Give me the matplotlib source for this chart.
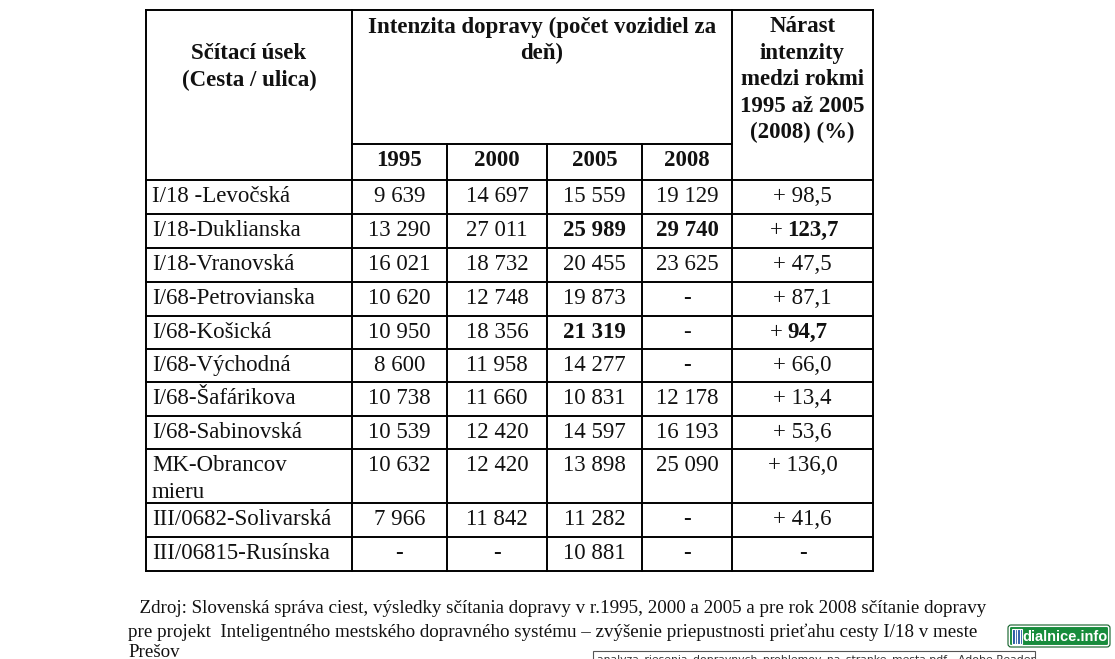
import matplotlib
matplotlib.use("Agg")
import matplotlib.pyplot as plt
from matplotlib.patches import Rectangle, FancyBboxPatch

# údaje z tabuľky
useky = ["I/18 -Levočská", "I/18-Duklianska", "I/18-Vranovská", "I/68-Petrovianska",
         "I/68-Košická", "I/68-Východná", "I/68-Šafárikova", "I/68-Sabinovská",
         "MK-Obrancov\nmieru", "III/0682-Solivarská", "III/06815-Rusínska"]
roky = ["1995", "2000", "2005", "2008"]
v1995 = ["9 639", "13 290", "16 021", "10 620", "10 950", "8 600", "10 738", "10 539", "10 632", "7 966", "-"]
v2000 = ["14 697", "27 011", "18 732", "12 748", "18 356", "11 958", "11 660", "12 420", "12 420", "11 842", "-"]
v2005 = ["15 559", "25 989", "20 455", "19 873", "21 319", "14 277", "10 831", "14 597", "13 898", "11 282", "10 881"]
v2008 = ["19 129", "29 740", "23 625", "-", "-", "-", "12 178", "16 193", "25 090", "-", "-"]
narast = ["+ 98,5", "+ 123,7", "+ 47,5", "+ 87,1", "+ 94,7", "+ 66,0", "+ 13,4", "+ 53,6", "+ 136,0", "+ 41,6", "-"]
tucne = [(1, 2), (1, 3), (1, 4), (4, 2), (4, 4)]

zdroj = ["  Zdroj: Slovenská správa ciest, výsledky sčítania dopravy v r.1995, 2000 a 2005 a pre rok 2008 sčítanie dopravy",
         "pre projekt  Inteligentného mestského dopravného systému – zvýšenie priepustnosti prieťahu cesty I/18 v meste",
         "Prešov"]

# rozmery tabuľky v pixeloch
stlpce = [146, 352, 447, 547, 642, 732, 873]
vysky = [34, 34, 34, 34, 33, 33, 34, 33, 54, 34, 34]
hore, pod_hlavickou, riadky_od = 10, 144, 180

FONT = "Liberation Serif"
FS = 16.5
farba = "#111111"

fig = plt.figure(figsize=(11.15, 6.59), dpi=100)
ax = fig.add_axes([0, 0, 1, 1])
ax.set_xlim(0, 1115)
ax.set_ylim(659, 0)
ax.axis("off")

hrany = [riadky_od]
for h in vysky:
    hrany.append(hrany[-1] + h)
dole = hrany[-1]

lw = 1.4
# ciary tabulky
for x in [stlpce[0], stlpce[1], stlpce[5], stlpce[6]]:
    ax.plot([x, x], [hore, dole], color="black", lw=lw)
for x in stlpce[2:5]:
    ax.plot([x, x], [pod_hlavickou, dole], color="black", lw=lw)
ax.plot([stlpce[0], stlpce[6]], [hore, hore], color="black", lw=lw)
ax.plot([stlpce[1], stlpce[5]], [pod_hlavickou, pod_hlavickou], color="black", lw=lw)
for y in hrany:
    ax.plot([stlpce[0], stlpce[6]], [y, y], color="black", lw=lw)

stred = lambda i: (stlpce[i] + stlpce[i + 1]) / 2

# hlavicka
for k, t in enumerate(["Sčítací úsek", "(Cesta / ulica)"]):
    ax.text(stred(0), 59 + 27 * k, t, ha="center", va="baseline", family=FONT,
            fontsize=FS, weight="bold", color=farba)
for k, t in enumerate(["Intenzita dopravy (počet vozidiel za", "deň)"]):
    ax.text((stlpce[1] + stlpce[5]) / 2, 33 + 26.5 * k, t, ha="center", va="baseline",
            family=FONT, fontsize=FS, weight="bold", color=farba)
for k, t in enumerate(["Nárast", "intenzity", "medzi rokmi", "1995 až 2005", "(2008) (%)"]):
    ax.text(stred(5), 32 + 26.5 * k, t, ha="center", va="baseline", family=FONT,
            fontsize=FS, weight="bold", color=farba)
for j, r in enumerate(roky):
    ax.text(stred(j + 1), 166, r, ha="center", va="baseline", family=FONT,
            fontsize=FS, weight="bold", color=farba)

# telo tabulky
hodnoty = [v1995, v2000, v2005, v2008, narast]
for i, usek in enumerate(useky):
    base = hrany[i] + 22
    for k, cast in enumerate(usek.split("\n")):
        ax.text(stlpce[0] + 6, base + 27 * k, cast, ha="left", va="baseline",
                family=FONT, fontsize=FS, color=farba)
    for j, stl in enumerate(hodnoty):
        t = stl[i]
        x = stred(j + 1)
        if (i, j) in tucne and t.startswith("+"):
            ax.text(x - 20, base, "+", ha="right", va="baseline", family=FONT,
                    fontsize=FS, color=farba)
            ax.text(x - 15, base, t[2:], ha="left", va="baseline", family=FONT,
                    fontsize=FS, weight="bold", color=farba)
            continue
        bold = (i, j) in tucne or (t == "-" and (i, j) != (4, 3))
        ax.text(x, base, t, ha="center", va="baseline", family=FONT, fontsize=FS,
                weight="bold" if bold else "normal", color=farba)

# zdroj pod tabulkou
for t, x, y in zip(zdroj, [130, 128, 128], [613, 637, 657]):
    ax.text(x, y, t, ha="left", va="baseline", family=FONT, fontsize=13.7, color=farba)

# okno s nazvom suboru (orezane)
ax.add_patch(Rectangle((593, 651), 442, 20, facecolor="white", edgecolor="#555555", lw=0.8))
ax.text(597, 662, "analyza_riesenia_dopravnych_problemov_na_stranke_mesta.pdf - Adobe Reader",
        ha="left", va="baseline", family="DejaVu Sans", fontsize=7.8, color="#333333")

# logo dialnice.info
ax.add_patch(FancyBboxPatch((1009, 626), 100, 20, boxstyle="round,pad=0,rounding_size=2",
                            facecolor="#178c3c", edgecolor="white", lw=1.5))
ax.add_patch(FancyBboxPatch((1008, 625), 102, 22, boxstyle="round,pad=0,rounding_size=3",
                            facecolor="none", edgecolor="#0e5f27", lw=0.8))
ax.add_patch(Rectangle((1012, 629), 10, 15, facecolor="#1d4fa0", edgecolor="white", lw=0.8))
for xx in [1014.5, 1017, 1019.5]:
    ax.plot([xx, xx], [630, 643], color="white", lw=0.9)
ax.text(1065, 637, "dialnice.info", ha="center", va="center", family="Liberation Sans",
        fontsize=10.5, weight="bold", color="white")

fig.savefig("out.png", dpi=100, facecolor="white")
